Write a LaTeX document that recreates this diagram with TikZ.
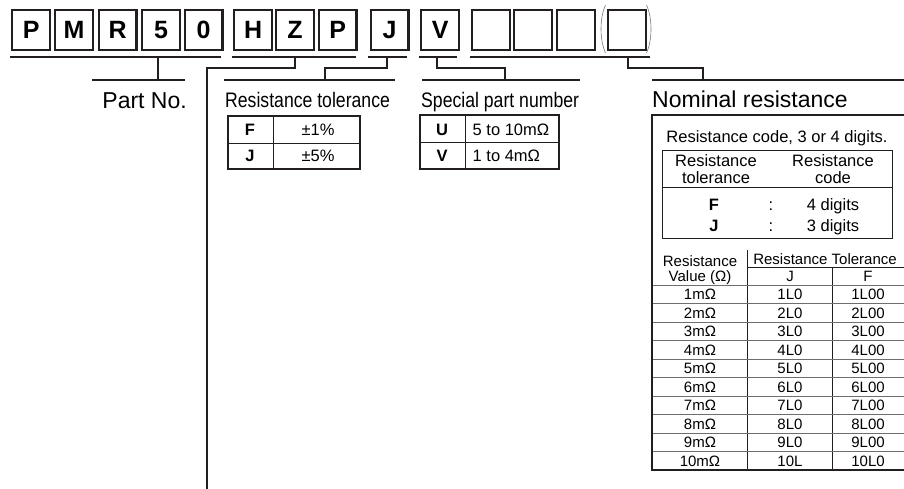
\documentclass[tikz,border=0pt]{standalone}
\usepackage{fontspec}
\setmainfont{Liberation Sans}
\newfontfamily\narrowfont[FakeStretch=0.84]{Liberation Sans}
\definecolor{ink}{HTML}{231F20}

\tikzset{
  codebox/.style={draw=ink, line width=2.2pt, minimum width=37.8pt, minimum height=39.8pt,
    inner sep=0pt, anchor=north west, font=\fontsize{25}{25}\selectfont\bfseries},
  bar/.style={draw=ink, line width=2.4pt},
  frame/.style={draw=ink, line width=2.4pt},
  thin/.style={draw=ink, line width=0.9pt},
  rowline/.style={draw=ink!65, line width=0.8pt},
  title/.style={anchor=base west, inner sep=0pt, font=\fontsize{23}{23}\selectfont},
  ntitle/.style={anchor=base west, inner sep=0pt, font={\narrowfont\fontsize{21}{21}\selectfont}},
  cell/.style={anchor=base, inner sep=0pt, font=\fontsize{16.5}{16.5}\selectfont},
  bcell/.style={anchor=base, inner sep=0pt, font=\fontsize{16.5}{16.5}\selectfont\bfseries},
  small/.style={anchor=base, inner sep=0pt, font=\fontsize{15}{15}\selectfont}
}

\begin{document}
\begin{tikzpicture}[x=1pt,y=-1pt]
  \useasboundingbox (0,0) rectangle (904,489);
  \clip (0,0) rectangle (904,489);

  % code boxes
  \foreach \i/\x/\t in {1/11.1/P,2/54.1/M,3/97.6/R,4/141.1/5,5/183.6/0,6/233.1/H,7/275.1/Z,8/317.6/P,
      9/369.6/J,10/420.1/V,11/471.1/{},12/513.1/{},13/556.1/{},14/607.1/{}}
    \node[codebox] (b\i) at (\x,9.1) {\t};
  \draw[ink!60, line width=0.6pt] (605.5,5) .. controls (599.5,18) and (599.5,40) .. (605.5,53);
  \draw[ink!60, line width=0.6pt] (646.5,5) .. controls (652.5,18) and (652.5,40) .. (646.5,53);

  % bars under the groups
  \coordinate (g1) at (158,57);
  \coordinate (g2) at (295,57);
  \coordinate (g3) at (387,57);
  \coordinate (g4) at (437,57);
  \coordinate (g5) at (628,57);
  \draw[bar] (10,57) -- (221,57);
  \draw[bar] (232,57) -- (356,57);
  \draw[bar] (368,57) -- (407,57);
  \draw[bar] (419,57) -- (457,57);
  \draw[bar] (470,57) -- (650,57);

  % bars above the titles
  \coordinate (t1) at (158,80);
  \coordinate (t3) at (325,80);
  \coordinate (t4) at (505,80);
  \coordinate (t5) at (703,80);
  \coordinate (t2) at (207,489);
  \draw[bar] (92,80) -- (185,80);
  \draw[bar] (224,80) -- (395,80);
  \draw[bar] (422,80) -- (580,80);
  \draw[bar] (652,80) -- (910,80);

  % links
  \draw[bar] (g1) -- (t1);
  \draw[bar] (g2) |- (207,68) -- (t2);
  \draw[bar] (g3) |- (t3 |- 0,68) -- (t3);
  \draw[bar] (g4) |- (t4 |- 0,68) -- (t4);
  \draw[bar] (g5) |- (t5 |- 0,68) -- (t5);

  % titles
  \node[title, anchor=base east] (partno) at (187,109) {Part No.};
  \node[ntitle] (tol) at (225,108) {Resistance tolerance};
  \node[ntitle] (spec) at (421,108) {Special part number};
  \node[title] (nom) at (652,108) {Nominal resistance};

  % tolerance table
  \draw[frame] (228,116) rectangle (360,169.3);
  \draw[thin] (273,116) -- (273,169.3) (228,143) -- (360,143);
  \node[bcell] (tf) at (250,135.5) {F};
  \node[cell] (tfv) at (318,135.5) {±1\%};
  \node[bcell] (tj) at (250,162) {J};
  \node[cell] (tjv) at (318,162) {±5\%};

  % special part table
  \draw[frame] (420,115) rectangle (559,169.3);
  \draw[thin] (465,115) -- (465,169.3) (420,142.7) -- (559,142.7);
  \node[bcell] (su) at (442,135.5) {U};
  \node[cell, anchor=base west] (suv) at (472.5,135.5) {5 to 10mΩ};
  \node[bcell] (sv) at (442,162) {V};
  \node[cell, anchor=base west] (svv) at (472.5,162) {1 to 4mΩ};

  % nominal resistance
  \draw[frame] (652,115) rectangle (912,470);
  \node[cell] (code) at (777,143) {Resistance code, 3 or 4 digits.};
  \draw[thin] (662,150) rectangle (892,238) (662,187) -- (892,187);
  \node[cell] (h1a) at (716,167) {Resistance};
  \node[cell] (h1b) at (716,183) {tolerance};
  \node[cell] (h2a) at (833,167) {Resistance};
  \node[cell] (h2b) at (833,183) {code};
  \node[bcell] (cf) at (714,210) {F};
  \node[cell] (cfc) at (771,210) {:};
  \node[cell] (cfv) at (833,210) {4 digits};
  \node[bcell] (cj) at (714,231.5) {J};
  \node[cell] (cjc) at (771,231.5) {:};
  \node[cell] (cjv) at (833,231.5) {3 digits};

  \draw[thin] (747,250) -- (747,470) (832,267) -- (832,470) (747,267) -- (912,267);
  \node[small] (rv1) at (700,266) {Resistance};
  \node[small] (rv2) at (700,281) {Value (Ω)};
  \node[small] (rt) at (825,264) {Resistance Tolerance};
  \node[small] (rtj) at (790,281.5) {J};
  \node[small] (rtf) at (868,281.5) {F};
  \foreach \k/\j/\f in {1/1L0/1L00,2/2L0/2L00,3/3L0/3L00,4/4L0/4L00,5/5L0/5L00,
      6/6L0/6L00,7/7L0/7L00,8/8L0/8L00,9/9L0/9L00,10/10L/10L0} {
    \draw[rowline] (652,{285+18.5*(\k-1)}) -- (912,{285+18.5*(\k-1)});
    \node[small] (r\k) at (700,{299.6+18.5*(\k-1)}) {\k mΩ};
    \node[small] (j\k) at (790,{299.6+18.5*(\k-1)}) {\j};
    \node[small] (f\k) at (868,{299.6+18.5*(\k-1)}) {\f};
  }
  \draw[frame] (652,115) -- (652,470) -- (912,470);
\end{tikzpicture}
\end{document}
